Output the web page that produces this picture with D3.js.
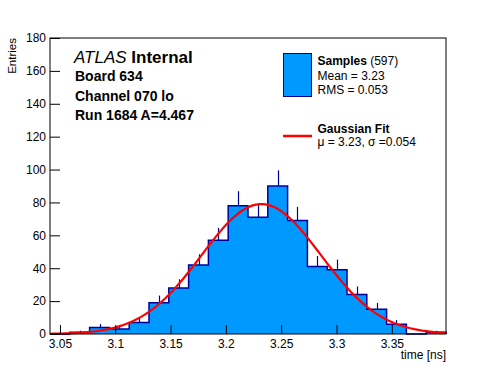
<!DOCTYPE html>
<html>
<head>
<meta charset="utf-8">
<script src="https://cdn.jsdelivr.net/npm/d3@7"></script>
<style>
  body { margin: 0; background: #fff; }
  svg { display: block; font-family: "Liberation Sans", Arial, Helvetica, sans-serif; }
</style>
</head>
<body>
<svg id="chart" width="496" height="372"></svg>
<script>
// histogram of the time samples, 20 equal bins over xDomain
const xDomain = [3.041, 3.399];
const binCounts = [0, 1, 4, 3, 7, 19, 28, 42, 57, 78, 71, 90, 69, 41, 39, 24, 15, 6, 0, 1];
const xTickValues = [3.05, 3.1, 3.15, 3.2, 3.25, 3.3, 3.35];
const yTickValues = [0, 20, 40, 60, 80, 100, 120, 140, 160, 180];
const yDomain = [0, 180];

// numbers shown in the legend
const sampleCount = 597;
const sampleMean = "3.23";
const sampleRms = "0.053";

// gaussian fit parameters
const fitMean = 3.232;
const fitSigma = 0.054;
const fitAmplitude = 79;

const infoLines = ["Board 634", "Channel 070 lo", "Run 1684 A=4.467"];

const fillColor = "#0099ff";
const lineColor = "#000099";
const fitColor = "#ff0000";

const margin = { top: 38, right: 50, bottom: 38, left: 50 };
const width = 496;
const height = 372;

const svg = d3.select("#chart");

const x = d3.scaleLinear().domain(xDomain).range([margin.left, width - margin.right]);
const y = d3.scaleLinear().domain(yDomain).range([height - margin.bottom, margin.top]);

const nBins = binCounts.length;
const binWidth = (xDomain[1] - xDomain[0]) / nBins;
const bins = binCounts.map((count, i) => ({
  x0: xDomain[0] + i * binWidth,
  x1: xDomain[0] + (i + 1) * binWidth,
  count,
}));

// step outline, also used for the fill
const outline = [[xDomain[0], 0]];
bins.forEach((d) => {
  outline.push([d.x0, d.count], [d.x1, d.count]);
});
outline.push([xDomain[1], 0]);
const stepLine = d3.line().x((d) => x(d[0])).y((d) => y(d[1]));

svg.append("path")
  .attr("d", stepLine(outline) + "Z")
  .attr("fill", fillColor)
  .attr("stroke", "none");

svg.append("path")
  .attr("d", stepLine(outline))
  .attr("fill", "none")
  .attr("stroke", lineColor)
  .attr("stroke-width", 1.5);

// upper half of the poisson error bars (lower half sits under the fill)
svg.append("g")
  .selectAll("line")
  .data(bins.filter((d) => d.count > 0))
  .join("line")
  .attr("x1", (d) => Math.round(x((d.x0 + d.x1) / 2)) + 0.5)
  .attr("x2", (d) => Math.round(x((d.x0 + d.x1) / 2)) + 0.5)
  .attr("y1", (d) => y(d.count))
  .attr("y2", (d) => y(d.count + Math.sqrt(d.count)))
  .attr("stroke", lineColor)
  .attr("stroke-width", 1.2);

// fit curve
const gauss = (t) => fitAmplitude * Math.exp(-0.5 * ((t - fitMean) / fitSigma) ** 2);
const fitPoints = d3.range(0, 101).map((i) => {
  const t = xDomain[0] + (i / 100) * (xDomain[1] - xDomain[0]);
  return [t, gauss(t)];
});
svg.append("path")
  .attr("d", d3.line().x((d) => x(d[0])).y((d) => y(d[1]))(fitPoints))
  .attr("fill", "none")
  .attr("stroke", fitColor)
  .attr("stroke-width", 2.2);

// axes, ticks pointing into the frame
const minorX = d3.range(3.04, 3.4, 0.01).filter((v) => v >= xDomain[0] && v <= xDomain[1]);
const minorY = d3.range(0, 181, 4);

const xAxis = svg.append("g").attr("transform", `translate(0,${y(0)})`);
xAxis.call(d3.axisBottom(x).tickValues(minorX).tickSize(-4.5).tickFormat(""));
xAxis.call(
  d3.axisBottom(x).tickValues(xTickValues).tickSize(-9).tickPadding(5)
    .tickFormat((d) => String(+d.toFixed(2)))
);

const yAxis = svg.append("g").attr("transform", `translate(${x(xDomain[0])},0)`);
yAxis.call(d3.axisLeft(y).tickValues(minorY).tickSize(-5).tickFormat(""));
yAxis.call(d3.axisLeft(y).tickValues(yTickValues).tickSize(-10).tickPadding(4));

// let the axis text use the page font instead of d3's sans-serif default
[xAxis, yAxis].forEach((g) => g.attr("font-family", null).attr("font-size", 12));
svg.selectAll(".domain").remove();
svg.selectAll(".tick line").attr("stroke", "#000");
svg.selectAll(".tick text").attr("fill", "#000");

// frame
svg.append("rect")
  .attr("x", x(xDomain[0]))
  .attr("y", y(yDomain[1]))
  .attr("width", x(xDomain[1]) - x(xDomain[0]))
  .attr("height", y(0) - y(yDomain[1]))
  .attr("fill", "none")
  .attr("stroke", "#000")
  .attr("stroke-width", 1);

// axis titles
svg.append("text")
  .attr("x", x(xDomain[1]))
  .attr("y", 359)
  .attr("text-anchor", "end")
  .attr("font-size", 12)
  .text("time [ns]");

svg.append("text")
  .attr("transform", `translate(15.5,${y(yDomain[1])}) rotate(-90)`)
  .attr("text-anchor", "end")
  .attr("font-size", 11.5)
  .text("Entries");

// ATLAS label block
const atlas = svg.append("text").attr("x", 74).attr("y", 63).attr("font-size", 17);
atlas.append("tspan").attr("font-style", "italic").text("ATLAS");
atlas.append("tspan").attr("font-weight", "bold").text(" Internal");

svg.append("g")
  .selectAll("text")
  .data(infoLines)
  .join("text")
  .attr("x", 75)
  .attr("y", (d, i) => 81 + i * 19.5)
  .attr("font-size", 14)
  .attr("font-weight", "bold")
  .text((d) => d);

// legend
const legend = svg.append("g").attr("font-size", 12);
legend.append("rect")
  .attr("x", 283.5).attr("y", 53.5)
  .attr("width", 28).attr("height", 43)
  .attr("fill", fillColor)
  .attr("stroke", lineColor);

const samples = legend.append("text").attr("x", 317.5).attr("y", 65);
samples.append("tspan").attr("font-weight", "bold").text("Samples");
samples.append("tspan").text(` (${sampleCount})`);
legend.append("text").attr("x", 317.5).attr("y", 79.5).text(`Mean = ${sampleMean}`);
legend.append("text").attr("x", 317.5).attr("y", 93.5).text(`RMS = ${sampleRms}`);

legend.append("line")
  .attr("x1", 283).attr("x2", 312)
  .attr("y1", 136).attr("y2", 136)
  .attr("stroke", fitColor)
  .attr("stroke-width", 2.5);
legend.append("text").attr("x", 317.5).attr("y", 133)
  .attr("font-weight", "bold").text("Gaussian Fit");
legend.append("text").attr("x", 317.5).attr("y", 146)
  .text(`\u03bc = 3.23, \u03c3 =0.054`);
</script>
</body>
</html>
